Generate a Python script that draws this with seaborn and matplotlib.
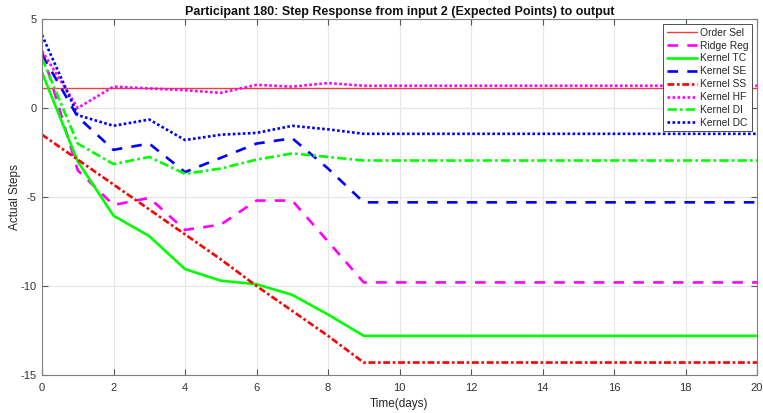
import numpy as np
import pandas as pd
import matplotlib
matplotlib.use("Agg")
import matplotlib.pyplot as plt
import seaborn as sns

# data, days 0..20
days = list(range(21))
order_sel = [1.1] * 21
ridge_reg = [3.2, -3.5, -5.45, -5.05, -6.85, -6.55, -5.2, -5.2, -7.5, -9.8] + [-9.8] * 11
kernel_tc = [2.0, -3.0, -6.05, -7.2, -9.05, -9.7, -9.9, -10.5, -11.6, -12.8] + [-12.8] * 11
kernel_se = [3.0, -0.5, -2.35, -2.0, -3.6, -2.8, -2.0, -1.7, -3.4, -5.3] + [-5.3] * 11
kernel_ss = [-1.5, -2.9, -4.3, -5.7, -7.1, -8.5, -10.0, -11.4, -12.8, -14.3] + [-14.3] * 11
kernel_hf = [3.2, 0.0, 1.2, 1.1, 1.0, 0.85, 1.3, 1.2, 1.4, 1.25] + [1.25] * 11
kernel_di = [2.8, -2.0, -3.15, -2.75, -3.7, -3.4, -2.9, -2.55, -2.75, -2.95] + [-2.95] * 11
kernel_dc = [4.1, -0.4, -1.0, -0.65, -1.8, -1.5, -1.4, -1.0, -1.2, -1.45] + [-1.45] * 11

series = {
    "Order Sel": order_sel,
    "Ridge Reg": ridge_reg,
    "Kernel TC": kernel_tc,
    "Kernel SE": kernel_se,
    "Kernel SS": kernel_ss,
    "Kernel HF": kernel_hf,
    "Kernel DI": kernel_di,
    "Kernel DC": kernel_dc,
}
styles = {
    "Order Sel": dict(color="#e8403a", linestyle="-", linewidth=1.0),
    "Ridge Reg": dict(color="#ff00ff", linestyle=(0, (4, 3.5)), linewidth=1.9),
    "Kernel TC": dict(color="#00ff00", linestyle="-", linewidth=1.9),
    "Kernel SE": dict(color="#0000ff", linestyle=(0, (4, 3.5)), linewidth=1.9),
    "Kernel SS": dict(color="#ff0000", linestyle=(0, (2.6, 1, 1, 1)), linewidth=1.9),
    "Kernel HF": dict(color="#ff00ff", linestyle=(0, (1, 0.9)), linewidth=1.9),
    "Kernel DI": dict(color="#00ff00", linestyle=(0, (3.5, 1.2, 1, 1.2)), linewidth=1.9),
    "Kernel DC": dict(color="#0000ff", linestyle=(0, (1, 0.9)), linewidth=1.9),
}

sns.set_style("whitegrid")
plt.rcParams['font.family'] = ['Liberation Sans', 'DejaVu Sans']
plt.rcParams['axes.unicode_minus'] = False

fig = plt.figure(figsize=(7.63, 4.13), dpi=100)
ax = fig.add_axes([42 / 763, 1 - 375 / 413, 715 / 763, 356 / 413])

for name, vals in series.items():
    sns.lineplot(x=days, y=vals, ax=ax, label=name, **styles[name])

ax.set_xlim(0, 20)
ax.set_ylim(-15, 5)
ax.set_xticks(range(0, 21, 2))
ax.set_yticks(range(-15, 6, 5))
ax.grid(True, color="#e6e6e6", linewidth=0.8)
for s in ax.spines.values():
    s.set_color("#808080")
    s.set_linewidth(0.8)
ax.tick_params(direction="in", length=4, color="#555555", labelsize=8,
               labelcolor="#333333", top=True, right=True,
               bottom=True, left=True)
ax.tick_params(axis="x", pad=6)
ax.tick_params(axis="y", pad=4)
ax.set_xlabel("Time(days)", fontsize=8.5, color="#262626", labelpad=3)
ax.set_ylabel("Actual Steps", fontsize=8.5, color="#262626")
ax.yaxis.set_label_coords(-0.029, 0.5)
ax.set_title("Participant 180: Step Response from input 2 (Expected Points) to output",
             fontsize=9, fontweight="bold", color="#111111", pad=3)

leg = ax.legend(loc="upper right", fontsize=7.4, frameon=True, fancybox=False,
                edgecolor="#333333", framealpha=1, borderpad=0.35,
                labelspacing=0.28, handlelength=2.9, handletextpad=0.3,
                borderaxespad=0.5)
leg.get_frame().set_linewidth(0.6)

fig.savefig("out.png", dpi=100)
